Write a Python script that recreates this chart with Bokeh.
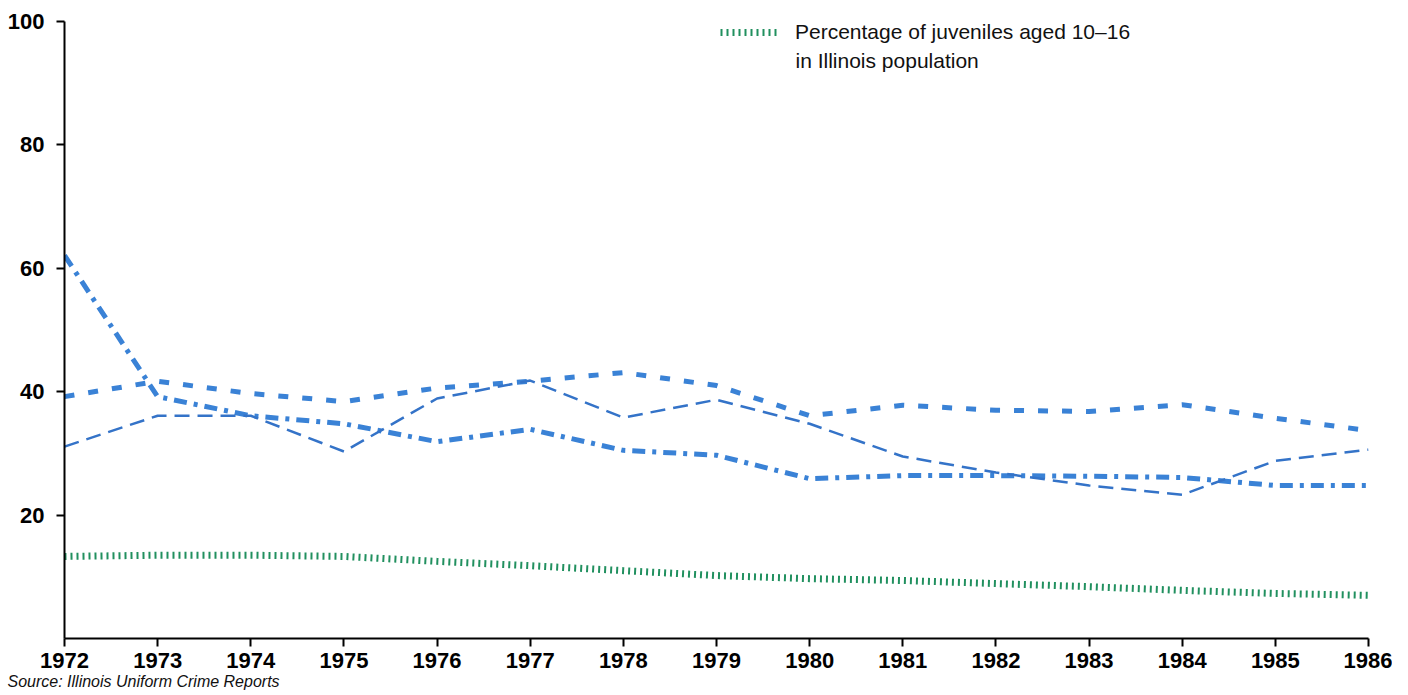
from bokeh.plotting import figure
from bokeh.models import Range1d, FixedTicker, Legend, LegendItem, Label, Title
from bokeh.embed import file_html
from bokeh.resources import INLINE

years = [1972, 1973, 1974, 1975, 1976, 1977, 1978, 1979, 1980, 1981, 1982, 1983, 1984, 1985, 1986]
series_dashed = [39.2, 41.7, 39.7, 38.4, 40.6, 41.7, 43.1, 41.0, 36.1, 37.8, 37.0, 36.8, 37.9, 35.7, 33.7]
series_dashdot = [62.1, 39.2, 36.1, 34.8, 31.9, 33.9, 30.5, 29.7, 25.9, 26.4, 26.4, 26.3, 26.1, 24.8, 24.8]
series_thin = [31.1, 36.1, 36.1, 30.3, 38.9, 41.8, 35.8, 38.7, 34.8, 29.5, 26.9, 24.8, 23.3, 28.8, 30.6]
juveniles_pct = [13.3, 13.5, 13.5, 13.3, 12.5, 11.8, 11.0, 10.2, 9.7, 9.4, 8.9, 8.4, 7.8, 7.3, 7.0]
y_ticks = [20, 40, 60, 80, 100]
legend_line1 = "Percentage of juveniles aged 10\u201316"
legend_line2 = "in Illinois population"
source_text = "Source: Illinois Uniform Crime Reports"

FONT = "Liberation Sans"

p = figure(width=1392, height=693, output_backend="svg", toolbar_location=None,
           x_range=Range1d(1972, 1986), y_range=Range1d(0, 100),
           min_border_left=64, min_border_right=24, min_border_top=21, min_border_bottom=55)
p.outline_line_color = None
p.xgrid.visible = False
p.ygrid.visible = False

for ax in (p.xaxis[0], p.yaxis[0]):
    ax.axis_line_color = "black"
    ax.axis_line_width = 2
    ax.major_tick_line_color = "black"
    ax.major_tick_line_width = 2
    ax.major_tick_out = 8
    ax.major_tick_in = 0
    ax.minor_tick_line_color = None
    ax.major_label_text_font = FONT
    ax.major_label_text_font_style = "bold"
    ax.major_label_text_font_size = "22px"
    ax.major_label_text_color = "black"

p.xaxis.ticker = FixedTicker(ticks=years)
p.xaxis.major_label_standoff = 6
p.yaxis.ticker = FixedTicker(ticks=y_ticks)
p.yaxis.major_label_standoff = 12

blue = "#3a82d6"
p.line(years, series_dashed, line_color=blue, line_width=5, line_dash="10 14")
p.line(years, series_dashdot, line_color=blue, line_width=5, line_dash="13 7 4 7")
p.line(years, series_thin, line_color="#3473c8", line_width=2.5, line_dash="15 8")
g = p.line(years, juveniles_pct, line_color="#21905f", line_width=7, line_dash="2 4")

legend = Legend(items=[LegendItem(label=legend_line1, renderers=[g])],
                location=(656, 594), padding=0, margin=0, spacing=0,
                glyph_width=60, glyph_height=20, label_standoff=15, label_width=420,
                border_line_color=None, background_fill_alpha=0,
                label_text_font=FONT, label_text_font_size="21px", label_text_color="#111111")
p.add_layout(legend)

p.add_layout(Label(x=731, y=578, x_units="screen", y_units="screen", text=legend_line2,
                   text_font=FONT, text_font_size="21px", text_color="#111111",
                   text_baseline="alphabetic"))

src = Title(text=source_text, align="left", offset=-57, standoff=0,
            text_font=FONT, text_font_size="16px", text_font_style="italic",
            text_color="#111111")
p.add_layout(src, "below")

open("out.html", "w").write(file_html(p, INLINE))
